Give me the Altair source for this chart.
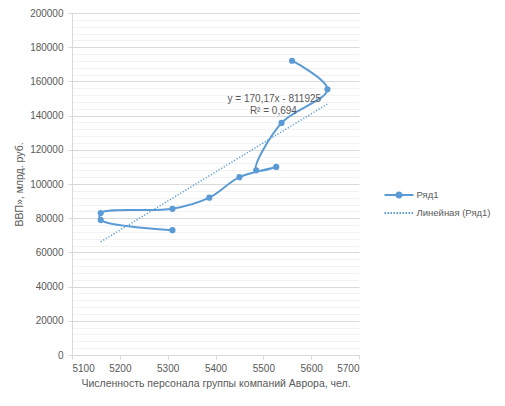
import altair as alt
import pandas as pd

# ---- data ----
staff = [5310, 5160, 5160, 5310, 5387, 5450, 5527, 5485, 5538, 5634, 5560]
gdp = [73000, 79000, 83000, 85500, 92000, 104000, 110000, 108000, 135700, 155400, 172100]
step = list(range(len(staff)))

series_names = ["Ряд1", "Линейная (Ряд1)"]
eq_text = ["y = 170,17x - 811925", "R² = 0,694"]
eq_x = [5523, 5521]
eq_y = [149800, 142700]

x_ticks = [5100, 5200, 5300, 5400, 5500, 5600, 5700]
y_ticks = list(range(0, 200001, 4000))

x_title = "Численность персонала группы компаний Аврора, чел."
y_title = "ВВП», млрд. руб."

BLUE = "#5b9bd5"
TXT = "#595959"
FONT = "Liberation Sans"

df = pd.DataFrame({"x": staff, "y": gdp, "i": step})
eq_df = pd.DataFrame({"x": eq_x, "y": eq_y, "t": eq_text})
leg_df = pd.DataFrame({"s": series_names})


def xenc():
    return alt.X(
        "x:Q",
        scale=alt.Scale(domain=[5100, 5700], nice=False, zero=False),
        axis=alt.Axis(
            values=x_ticks, title=x_title, grid=False, format="d",
            domainColor="#d9d9d9", tickColor="#d9d9d9", tickSize=4,
            labelPadding=4, titlePadding=5, labelFontSize=10, titleFontSize=10.5,
            labelColor=TXT, titleColor=TXT, titleFontWeight="normal",
            labelFont=FONT, titleFont=FONT,
        ),
    )


def yenc():
    return alt.Y(
        "y:Q",
        scale=alt.Scale(domain=[0, 200000], nice=False),
        axis=alt.Axis(
            values=y_ticks, title=y_title, format="d", labelOverlap=False,
            labelExpr="datum.value % 20000 === 0 ? datum.label : ''",
            gridColor={"condition": {"test": "datum.value % 20000 === 0", "value": "#d9d9d9"}, "value": "#f2f2f2"},
            tickOpacity={"condition": {"test": "datum.value % 20000 === 0", "value": 1}, "value": 0},
            domainColor="#d9d9d9", tickColor="#d9d9d9", tickSize=4,
            labelPadding=5, titlePadding=5, labelFontSize=10, titleFontSize=10.5,
            labelColor=TXT, titleColor=TXT, titleFontWeight="normal",
            labelFont=FONT, titleFont=FONT,
        ),
    )


trend = alt.Chart(df).transform_regression("x", "y").mark_line(
    color=BLUE, strokeWidth=1.5, strokeDash=[1.2, 1.8]
).encode(x=xenc(), y=yenc())

line = alt.Chart(df).mark_line(
    interpolate="catmull-rom", color=BLUE, strokeWidth=2
).encode(x=xenc(), y=yenc(), order="i:Q")

pts = alt.Chart(df).mark_circle(size=38, color=BLUE, opacity=1).encode(x=xenc(), y=yenc())

eq = alt.Chart(eq_df).mark_text(
    align="center", baseline="middle", fontSize=10, color=TXT, font=FONT
).encode(x=xenc(), y=yenc(), text="t:N")

# legend symbols: line with marker, dotted line
s = 9.0
half = 14.5 / s
r1, r2 = 2.6 / s, 1.2 / s
path_line = (
    f"M{-half:.3f},0H{half:.3f}"
    f"M{r1:.3f},0A{r1:.3f},{r1:.3f},0,1,1,{-r1:.3f},0A{r1:.3f},{r1:.3f},0,1,1,{r1:.3f},0"
    f"M{r2:.3f},0A{r2:.3f},{r2:.3f},0,1,1,{-r2:.3f},0A{r2:.3f},{r2:.3f},0,1,1,{r2:.3f},0"
)
dots = []
pos = -half
while pos < half - 0.05:
    dots.append(f"M{pos:.3f},0H{pos + 1.5 / s:.3f}")
    pos += 3.0 / s
path_dot = "".join(dots)

legend_kw = dict(
    title=None, orient="none", legendX=317, legendY=172,
    symbolSize=s * s * 4, symbolStrokeWidth=2, labelOffset=7.5, rowPadding=1,
    labelFontSize=9.5, labelColor=TXT, labelFont=FONT, padding=0, labelLimit=200,
)

leg = alt.Chart(leg_df).transform_filter("false").mark_point(
    opacity=1, strokeWidth=2, filled=False
).encode(
    color=alt.Color("s:N", scale=alt.Scale(domain=series_names, range=[BLUE, BLUE]),
                    legend=alt.Legend(**legend_kw)),
    shape=alt.Shape("s:N", scale=alt.Scale(domain=series_names, range=[path_line, path_dot]),
                    legend=alt.Legend(**legend_kw)),
)

chart = alt.layer(trend, line, pts, eq, leg).properties(
    width=287, height=342,
    padding={"left": 64, "top": 5, "right": 134, "bottom": 45},
    autosize=alt.AutoSizeParams(type="none"),
).configure_view(stroke=None)

chart.save("out.html", embed_options={"renderer": "svg", "actions": False})
